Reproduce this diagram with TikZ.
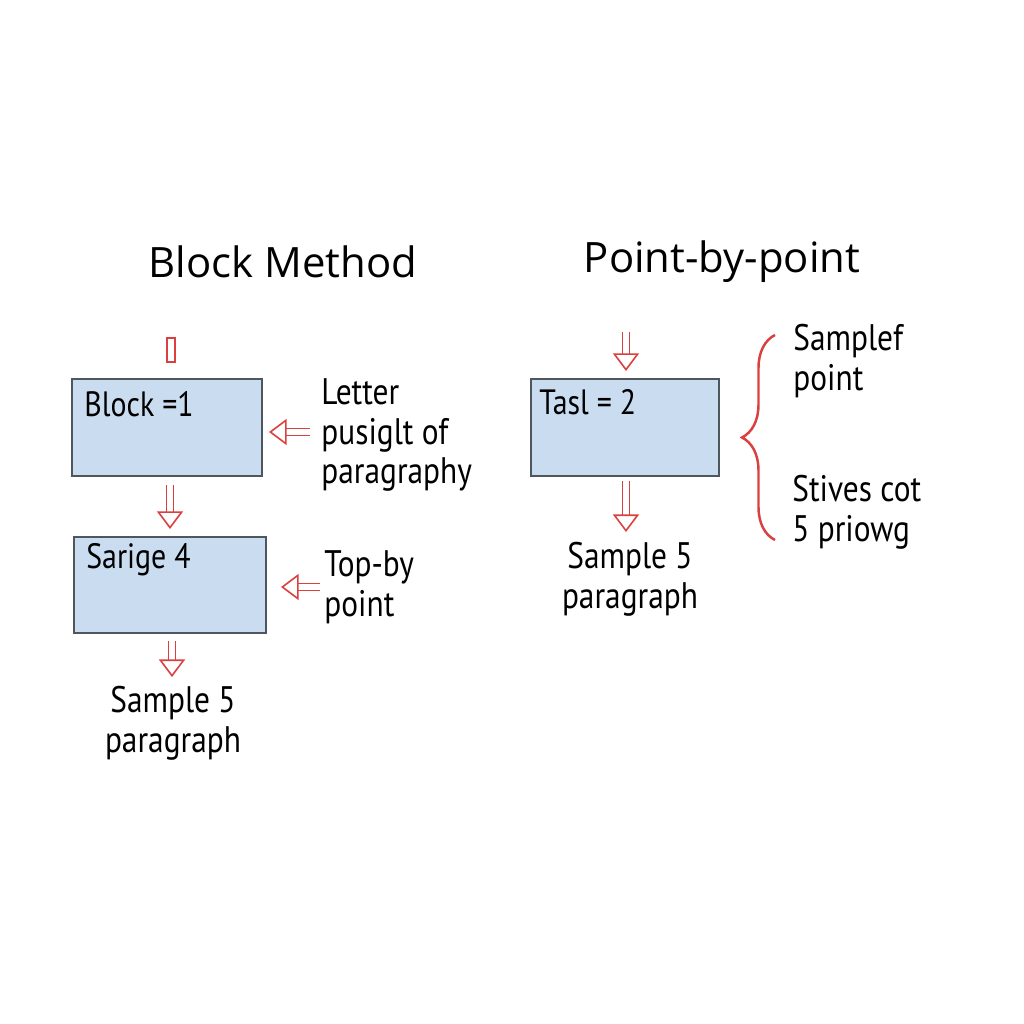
\documentclass[tikz,border=0pt]{standalone}
\usepackage{fontspec}
\setmainfont{Open Sans}
\newfontfamily\handfont[FakeStretch = 0.85]{PT Sans}
\usetikzlibrary{arrows.meta}
\usetikzlibrary{decorations.pathreplacing}

\definecolor{arrowred}{HTML}{D9403F}
\definecolor{boxblue}{HTML}{CADDF0}
\definecolor{boxline}{HTML}{4E565E}

\tikzset{
  box/.style = {draw = boxline, fill = boxblue, line width = .6pt,
  minimum width = 1.9cm, minimum height = .97cm},
  boxtext/.style = {anchor = west, font = \handfont\fontsize{10}{11}\selectfont},
  hand/.style = {align = left, font = \handfont\fontsize{10.5}{11.3}\selectfont},
  title/.style = {font = \fontsize{11.9}{15}\selectfont},
  hollow/.style = {arrowred, line width = .45pt, double = white,
  double distance = 1.5pt},
  hollowtip/.style = {hollow, -{Triangle[open, length = 5pt, width = 7.4pt,
  fill = white]}}
}

\begin{document}
\begin{tikzpicture}
  \useasboundingbox (0, 0) rectangle (10.24, 10.24);
  \fill[white] (0, 0) rectangle (10.24, 10.24);

  % block method
  \node[title] (t1) at (2.83, 7.62) {Block Method};
  \node[box] (b1) at (1.67, 5.965) {};
  \node[box, minimum width = 1.92cm, minimum height = .96cm] (b2) at
  (1.70, 4.39) {};
  \node[boxtext] (n1) at ([shift = {(.01, -.26)}]b1.north west) {Block =1};
  \node[boxtext] (n2) at ([shift = {(.01, -.24)}]b2.north west) {Sarige 4};

  \node[hand, anchor = west] (l1) at (3.09, 5.89) {Letter\\pusiglt of\\
  paragraphy};
  \node[hand, anchor = west] (l2) at (3.12, 4.37) {Top-by\\point};
  \node[hand, align = center] (s1) at (1.73, 3.01) {Sample 5\\paragraph};

  \draw[arrowred, line width = .45pt] (1.67, 6.62) rectangle (1.75, 6.86);
  \draw[hollowtip] ([yshift = -.08cm]b1.south -| 1.70, 0) -- ([yshift =
  .07cm]b2.north -| 1.70, 0);
  \draw[hollowtip] ([yshift = -.07cm]b2.south -| 1.72, 0) -- ([yshift =
  -.43cm]b2.south -| 1.72, 0);
  \draw[hollowtip] (l1.west |- 0, 5.92) ++(.01, 0) -- ([xshift =
  .06cm]b1.east |- 0, 5.92);
  \draw[hollowtip] (l2.west |- 0, 4.37) ++(.08, 0) -- ([xshift =
  .14cm]b2.east |- 0, 4.37);

  % point-by-point
  \node[title] (t2) at (7.22, 7.62) {Point-by-point};
  \node[box, minimum width = 1.88cm] (b3) at (6.25, 5.965) {};
  \node[boxtext] (n3) at ([shift = {(-.03, -.24)}]b3.north west) {Tasl = 2};
  \node[hand, align = center] (s2) at (6.30, 4.45) {Sample 5\\paragraph};

  \coordinate (a2) at (6.26, 6.92);
  \draw[hollowtip] (a2) -- ([yshift = .07cm]b3.north -| 6.26, 0);
  \draw[hollowtip] ([yshift = -.04cm]b3.south -| 6.26, 0) -- (6.26, 4.92)
  coordinate (a3);

  \coordinate (br1) at (7.75, 4.84);
  \coordinate (br2) at (7.75, 6.89);
  \draw[arrowred, line width = .7pt, decorate, decoration = {brace,
  amplitude = .33cm}] (br1) -- (br2);
  \node[hand, anchor = west] (p1) at (7.81, 6.63) {Samplef\\point};
  \node[hand, anchor = west] (p2) at (7.80, 5.12) {Stives cot\\5 priowg};
\end{tikzpicture}
\end{document}
